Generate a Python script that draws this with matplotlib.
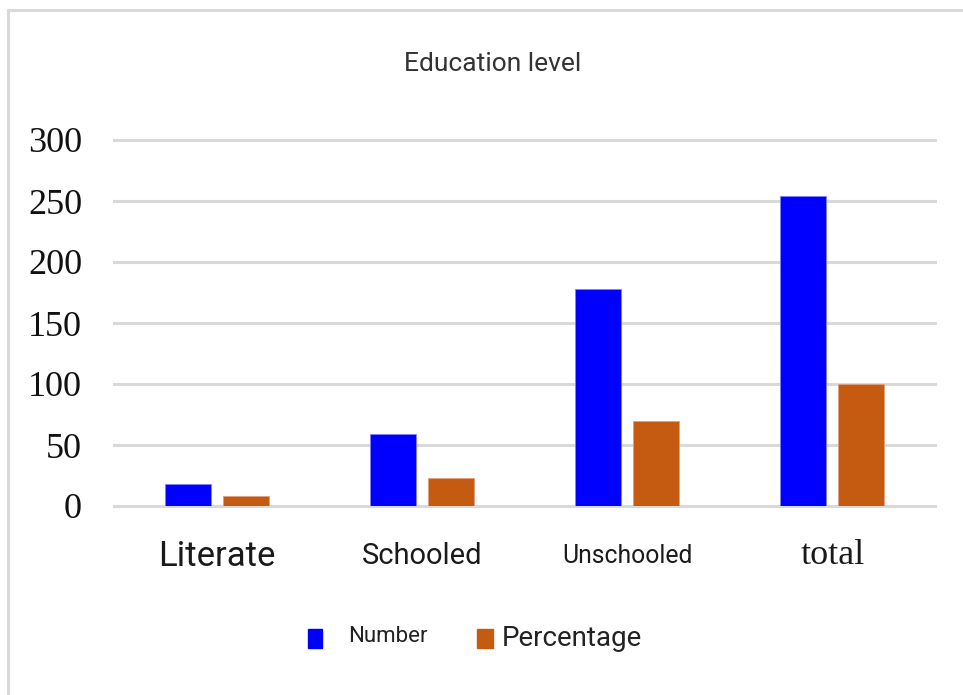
import numpy as np
import matplotlib
matplotlib.use("Agg")
import matplotlib.pyplot as plt
from matplotlib.lines import Line2D
from matplotlib.patches import Rectangle

# Datos
categories = ["Literate", "Schooled", "Unschooled", "total"]
number     = [18, 59, 178, 254]
percentage = [8, 23, 70, 100]
series     = ["Number", "Percentage"]
colors     = ["#0000FF", "#C55A11"]
yticks     = [0, 50, 100, 150, 200, 250, 300]

W, H = 963, 695
fig = plt.figure(figsize=(W / 100, H / 100), dpi=100)
ax = fig.add_axes([114 / W, 189 / H, 821 / W, 366 / H])

x = np.arange(len(categories))
bw = 0.224
off = 0.141
ax.bar(x - off, number, bw, color=colors[0], edgecolor="#8080ff", linewidth=0.6, zorder=3)
ax.bar(x + off, percentage, bw, color=colors[1], edgecolor="#e0a080", linewidth=0.6, zorder=3)

ax.set_xlim(-0.5, 3.5)
ax.set_ylim(0, 300)
ax.set_yticks(yticks)
ax.yaxis.grid(True, color="#d9d9d9", linewidth=2.2)
ax.set_axisbelow(True)
for gl in ax.get_ygridlines():
    gl.set_clip_on(False)
for s in ax.spines.values():
    s.set_visible(False)

ax.tick_params(axis="y", length=0, pad=23)
for lab in ax.get_yticklabels():
    lab.set_fontfamily("Liberation Serif")
    lab.set_fontsize(26)
    lab.set_color("#111111")

# Etiquetas x, cada una con su propia fuente
ax.set_xticks(x)
ax.set_xticklabels(categories)
ax.tick_params(axis="x", length=0, pad=36)
xfonts = [("Roboto", 25), ("Roboto", 21),
          ("Roboto", 17.8), ("Liberation Serif", 26)]
for lab, (fam, sz) in zip(ax.get_xticklabels(), xfonts):
    lab.set_fontfamily(fam)
    lab.set_fontsize(sz)
    lab.set_verticalalignment("center")
    lab.set_color("#1a1a1a")

# Titulo
fig.text(493 / W, 1 - 64 / H, "Education level", ha="center", va="center",
         fontsize=19, family="Roboto", color="#333333")

# Leyenda manual
fig.add_artist(Rectangle((308 / W, 1 - 648 / H), 14 / W, 19 / H,
                         transform=fig.transFigure, color=colors[0]))
fig.add_artist(Rectangle((477 / W, 1 - 648 / H), 16 / W, 19 / H,
                         transform=fig.transFigure, color=colors[1]))
fig.text(348 / W, 1 - 636 / H, series[0], ha="left", va="center",
         fontsize=16, family="Roboto", color="#222222")
fig.text(502 / W, 1 - 638 / H, series[1], ha="left", va="center",
         fontsize=20, family="Roboto", color="#222222")

# Marco
fig.add_artist(Line2D([8 / W, 1], [1 - 10 / H, 1 - 10 / H], color="#d9d9d9",
                      linewidth=2.2, transform=fig.transFigure))
fig.add_artist(Line2D([8 / W, 8 / W], [0, 1 - 10 / H], color="#d9d9d9",
                      linewidth=2.2, transform=fig.transFigure))

fig.savefig("out.png", dpi=100)
